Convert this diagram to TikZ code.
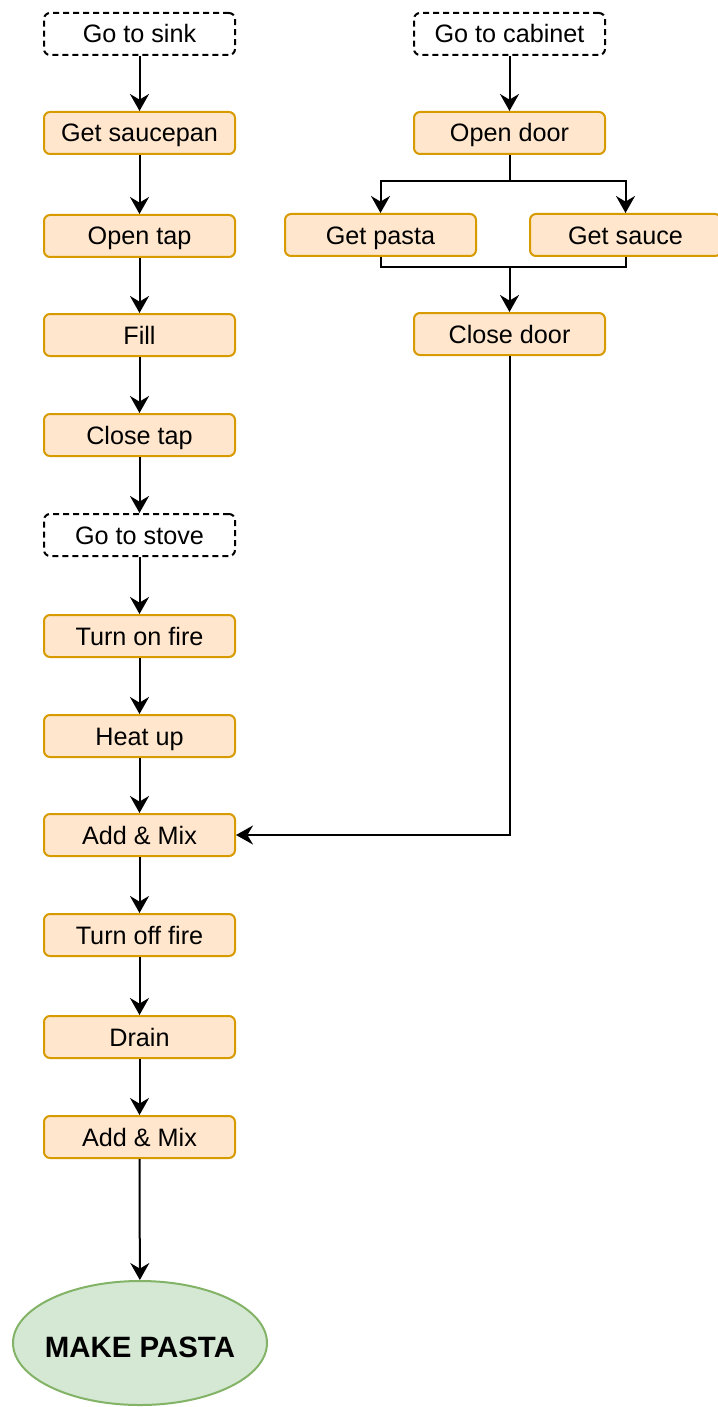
\documentclass[tikz,border=0pt]{standalone}
\usepackage{fontspec}
\setmainfont{Liberation Sans}
\usetikzlibrary{arrows.meta,shapes.geometric}

\definecolor{taskfill}{HTML}{FFE6CC}
\definecolor{taskline}{HTML}{D79B00}
\definecolor{goalfill}{HTML}{D5E8D4}
\definecolor{goalline}{HTML}{82B366}

\tikzset{
  stepbox/.style={draw=taskline, fill=taskfill, line width=1pt, rounded corners=3pt,
    minimum width=95.5pt, minimum height=21pt, inner sep=0pt,
    text height=9pt, text depth=0pt,
    font=\fontsize{12.6}{15}\selectfont},
  placebox/.style={stepbox, draw=black, fill=white, dash pattern=on 3pt off 2pt},
  goal/.style={ellipse, draw=goalline, fill=goalfill, line width=1pt,
    minimum width=127pt, minimum height=62pt, inner xsep=-3pt, inner ysep=0pt,
    text height=14pt, text depth=0pt,
    font=\fontsize{14.7}{17}\selectfont\bfseries},
  flow/.style={line width=1pt, -{Stealth[length=8.5pt,width=9.5pt,inset=2.8pt]}},
  wire/.style={line width=1pt}
}

\begin{document}
\begin{tikzpicture}[x=0.5pt,y=-0.5pt]
      \useasboundingbox (0,0) rectangle (717,1407);

      % water and stove
      \node[placebox] (sink) at (139.5,34) {Go to sink};
      \node[stepbox] (saucepan) at (139.5,133) {Get saucepan};
      \node[stepbox] (opentap) at (139.5,236) {Open tap};
      \node[stepbox] (fill) at (139.5,335) {Fill};
      \node[stepbox] (closetap) at (139.5,435) {Close tap};
      \node[placebox] (stove) at (139.5,535) {Go to stove};
      \node[stepbox] (fireon) at (139.5,636) {Turn on fire};
      \node[stepbox] (heatup) at (139.5,736) {Heat up};
      \node[stepbox] (addmix) at (139.5,835) {Add \& Mix};
      \node[stepbox] (fireoff) at (139.5,935) {Turn off fire};
      \node[stepbox] (drain) at (139.5,1037) {Drain};
      \node[stepbox] (addmixb) at (139.5,1137) {Add \& Mix};
      \node[goal] (pasta) at (140,1343) {MAKE PASTA};

      % cabinet
      \node[placebox] (cabinet) at (509.5,34) {Go to cabinet};
      \node[stepbox] (opendoor) at (509.5,133) {Open door};
      \node[stepbox] (getpasta) at (380.5,235) {Get pasta};
      \node[stepbox] (getsauce) at (625.5,235) {Get sauce};
      \node[stepbox] (closedoor) at (509.5,334) {Close door};

      \coordinate (split) at (509.5,181.5);
      \coordinate (merge) at (509.5,266.5);

      \draw[flow] (sink) -- (saucepan);
      \draw[flow] (saucepan) -- (opentap);
      \draw[flow] (opentap) -- (fill);
      \draw[flow] (fill) -- (closetap);
      \draw[flow] (closetap) -- (stove);
      \draw[flow] (stove) -- (fireon);
      \draw[flow] (fireon) -- (heatup);
      \draw[flow] (heatup) -- (addmix);
      \draw[flow] (addmix) -- (fireoff);
      \draw[flow] (fireoff) -- (drain);
      \draw[flow] (drain) -- (addmixb);
      \draw[flow] (addmixb) -- (pasta);

      \draw[flow] (cabinet) -- (opendoor);
      \draw[flow] (opendoor) -- (split) -| (getpasta);
      \draw[flow] (split) -| (getsauce);
      \draw[wire] (getpasta) |- (merge);
      \draw[wire] (getsauce) |- (merge);
      \draw[flow] (merge) -- (closedoor);
      \draw[flow] (closedoor) |- (addmix);
\end{tikzpicture}
\end{document}
